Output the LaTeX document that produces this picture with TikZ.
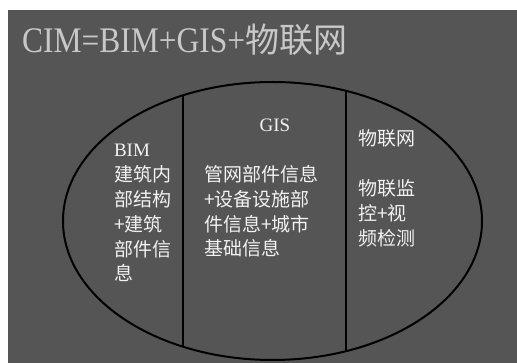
\documentclass[tikz,border=0pt]{standalone}
\usepackage{fontspec}
\usepackage{graphicx}
\setmainfont{Liberation Serif}
\newfontfamily\cjk{Noto Sans CJK SC}
\usetikzlibrary{shapes.geometric}
\definecolor{bg}{HTML}{555555}
\definecolor{titlegray}{HTML}{C8C8C8}
\definecolor{textwhite}{HTML}{F2F2F2}
\begin{document}
\begin{tikzpicture}[x=1pt,y=-1pt,
  every node/.style={inner sep=0pt, outer sep=0pt},
  bodytext/.style={text=textwhite, align=left, anchor=base west, font=\fontsize{19}{24.8}\selectfont},
  headtext/.style={text=textwhite, anchor=base, font=\fontsize{19}{24.8}\selectfont},
  divider/.style={draw=black, line width=2pt},
  oval/.style={draw=black, line width=2pt, ellipse, minimum width=419pt, minimum height=278pt}]
\useasboundingbox (0,0) rectangle (517,363);
\fill[white] (0,0) rectangle (517,363);
\fill[bg] (8,10) rectangle (517,363);
% title
\node[anchor=base west, text=titlegray] (title) at (22,53)
  {\scalebox{0.875}[1]{\fontsize{36}{40}\selectfont CIM=BIM+GIS+}{\cjk\fontsize{34}{40}\selectfont 物联网}};
% ellipse
\node[oval] (cim) at (272.5,221) {};
\coordinate (d1t) at (183,95.5);
\coordinate (d1b) at (183,346.5);
\coordinate (d2t) at (346,91);
\coordinate (d2b) at (346,351);
\draw[divider] (d1t) -- (d1b);
\draw[divider] (d2t) -- (d2b);
% BIM column (anchor = baseline of last line)
\node[bodytext] (bim) at (114,281)
  {BIM\\{\cjk 建筑内}\\{\cjk 部结构}\\{\cjk +建筑}\\{\cjk 部件信}\\{\cjk 息}};
% GIS column
\node[headtext] (gishead) at (275,132) {GIS};
\node[bodytext] (gis) at (204,256)
  {{\cjk 管网部件信息}\\{\cjk +设备设施部}\\{\cjk 件信息+城市}\\{\cjk 基础信息}};
% IoT column
\node[bodytext] (iot) at (358,245.2)
  {{\cjk 物联网}\\[24.8pt]{\cjk 物联监}\\{\cjk 控+视}\\{\cjk 频检测}};
\end{tikzpicture}
\end{document}
